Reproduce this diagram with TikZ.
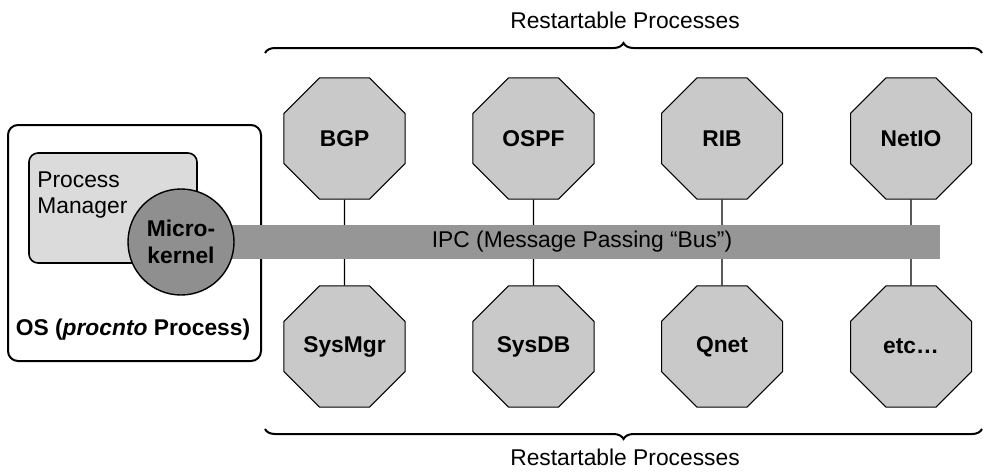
\documentclass[tikz,border=0pt]{standalone}
\usepackage{fontspec}
\setmainfont{Liberation Sans}
\usepackage{xcolor}
\definecolor{octgray}{gray}{0.79}
\definecolor{mgrgray}{gray}{0.86}
\definecolor{busgray}{gray}{0.59}
\definecolor{kergray}{gray}{0.56}
\usetikzlibrary{shapes.geometric}
\usetikzlibrary{positioning}
\usetikzlibrary{decorations.pathreplacing}

\begin{document}
\begin{tikzpicture}[x=0.5pt, y=-0.5pt,
		font=\fontsize{11.4}{13}\selectfont,
		proc/.style={draw, regular polygon, regular polygon sides=8,
			minimum size=65.5pt, inner sep=0pt, fill=octgray,
			line width=0.5pt, font=\fontsize{11.4}{13}\selectfont\bfseries},
		osbox/.style={draw, rectangle, rounded corners=5pt, line width=1pt,
			minimum width=126.5pt, minimum height=118pt},
		mgrbox/.style={draw, rectangle, rounded corners=4.5pt, line width=0.8pt,
			fill=mgrgray, minimum width=84pt, minimum height=55pt},
		kernel/.style={draw, circle, fill=kergray, line width=0.7pt,
			minimum size=53pt, inner sep=0pt, align=center,
			font=\fontsize{11.4}{13.5}\selectfont\bfseries},
		bus/.style={rectangle, fill=busgray, minimum width=358pt,
			minimum height=17pt, inner sep=0pt},
		link/.style={draw, line width=0.6pt},
		bracket/.style={draw, line width=1pt, decorate,
			decoration={brace, amplitude=5pt}}]
		\useasboundingbox (0,0) rectangle (983,472);
		\node [osbox] at (134.5,243) (os) {};
		\node [mgrbox] at (113,208) (mgr) {};
		\node [anchor=west, align=left, inner sep=0pt] at (37,195) (mgrtext) {Process\\Manager};
		\node [proc] at (344.5,138.5) (bgp) {BGP};
		\node [proc] at (533.5,138.5) (ospf) {OSPF};
		\node [proc] at (722,138.5) (rib) {RIB};
		\node [proc] at (911,138.5) (netio) {NetIO};
		\node [proc] at (344.5,346.5) (sysmgr) {SysMgr};
		\node [proc] at (533.5,346.5) (sysdb) {SysDB};
		\node [proc] at (722,346.5) (qnet) {Qnet};
		\node [proc] at (911,346.5) (etc) {etc\ldots};
		%% Links
		\path [link] (bgp) -- (sysmgr);
		\path [link] (ospf) -- (sysdb);
		\path [link] (rib) -- (qnet);
		\path [link] (netio) -- (etc);
		\node [bus] at (582,242) (ipc) {IPC (Message Passing “Bus”)};
		\node [kernel] at (181,242) (kern) {Micro-\\kernel};
		\node at (133,330) (oslabel) {\bfseries OS (\textit{procnto} Process)};
		%% Braces
		\draw [bracket] (265,53) -- (982,53);
		\draw [bracket] (982,429) -- (265,429);
		\node at (625,20) (toplabel) {Restartable Processes};
		\node at (625,457) (botlabel) {Restartable Processes};
\end{tikzpicture}
\end{document}
